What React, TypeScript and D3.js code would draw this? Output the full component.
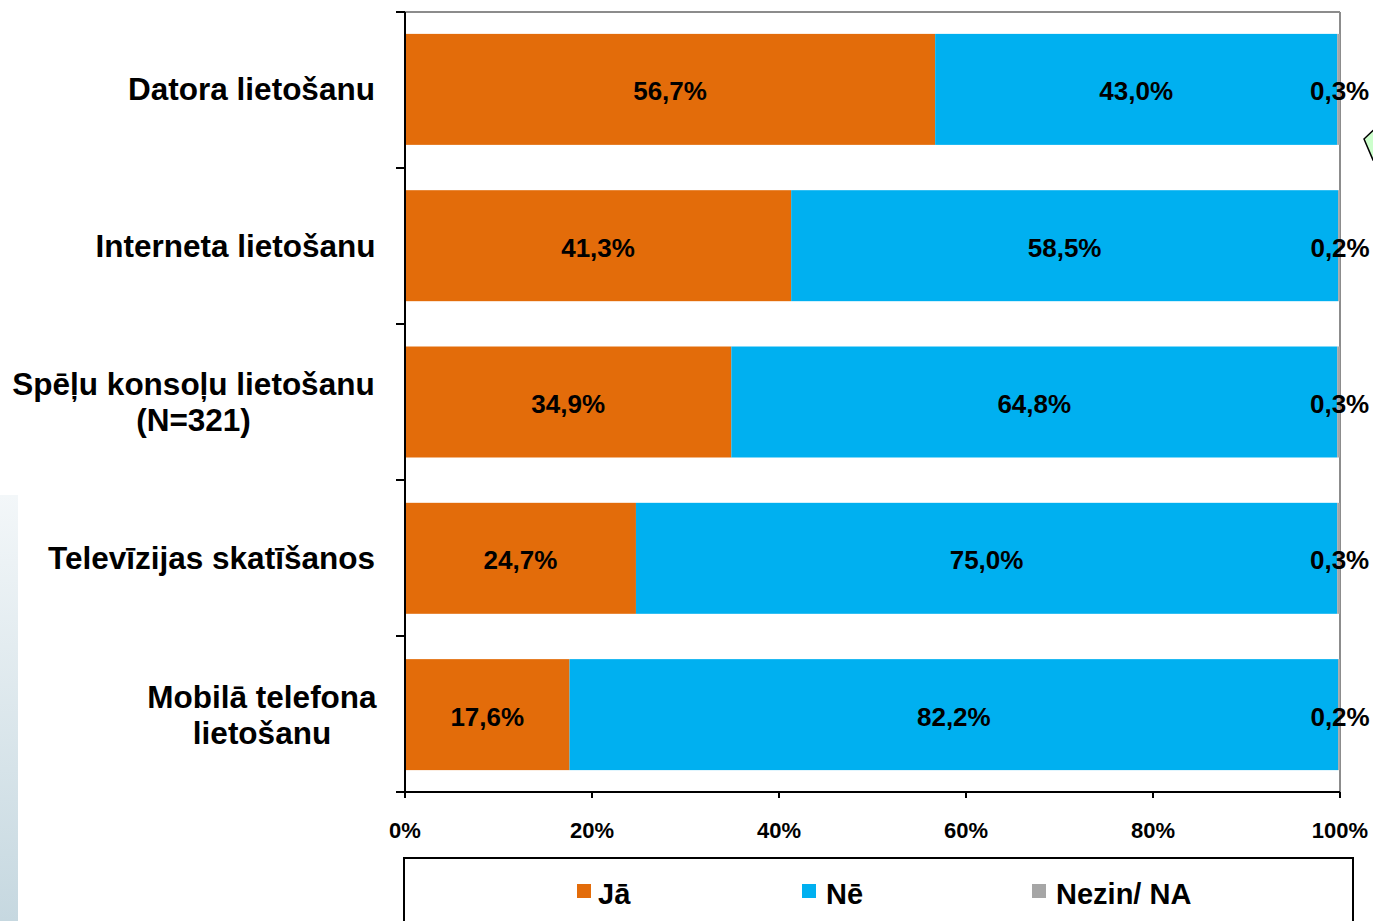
import React from "react";
import * as d3 from "d3";

const categories: string[][] = [
  ["Datora lietošanu"],
  ["Interneta lietošanu"],
  ["Spēļu konsoļu lietošanu", "(N=321)"],
  ["Televīzijas skatīšanos"],
  ["Mobilā telefona", "lietošanu"],
];
const seriesNames = ["Jā", "Nē", "Nezin/ NA"];
const ja = [56.7, 41.3, 34.9, 24.7, 17.6];
const ne = [43.0, 58.5, 64.8, 75.0, 82.2];
const nezin = [0.3, 0.2, 0.3, 0.3, 0.2];
const xTicks = [0, 20, 40, 60, 80, 100];
const colors = ["#E36C0A", "#00B0F0", "#A6A6A6"];

const W = 1373;
const H = 921;
const plot = { left: 405, right: 1340, top: 12, bottom: 792 };
const FONT = "'Liberation Sans', Arial, sans-serif";

const fmt = (v: number) => v.toFixed(1).replace(".", ",") + "%";

const CAT_CENTERS = [251.5, 235.5, 193.5, 211.5, 262];
const LEG_X = [577, 802, 1032];
const LEG_TX = [598, 826, 1056];

export default function App() {
  const x = d3.scaleLinear().domain([0, 100]).range([plot.left, plot.right]);
  const y = d3
    .scaleBand<number>()
    .domain(d3.range(categories.length))
    .range([plot.top, plot.bottom])
    .paddingInner(0.29)
    .paddingOuter(0.14);
  const band = (plot.bottom - plot.top) / categories.length;

  const series = [ja, ne, nezin];
  const rows = categories.map((_, i) => {
    let acc = 0;
    return series.map((s, k) => {
      const x0 = acc;
      acc += s[i];
      return { k, x0, x1: acc, v: s[i] };
    });
  });

  return (
    <svg
      width={W}
      height={H}
      style={{ position: "absolute", left: 0, top: 0, background: "#fff" }}
      fontFamily={FONT}
    >
      <defs>
        <linearGradient id="strip" x1="0" y1="0" x2="0" y2="1">
          <stop offset="0" stopColor="#f3f7f9" />
          <stop offset="1" stopColor="#c6d8e0" />
        </linearGradient>
      </defs>
      <rect x={0} y={495} width={18} height={H - 495} fill="url(#strip)" />

      {/* plot frame: top & right gray */}
      <line x1={plot.left} x2={plot.right} y1={plot.top} y2={plot.top} stroke="#8c8c8c" strokeWidth={2} />
      <line x1={plot.right} x2={plot.right} y1={plot.top} y2={plot.bottom} stroke="#8c8c8c" strokeWidth={2} />

      {/* bars */}
      {rows.map((segs, i) =>
        segs.map((s) => (
          <rect
            key={`${i}-${s.k}`}
            x={x(s.x0)}
            y={y(i)!}
            width={x(s.x1) - x(s.x0)}
            height={y.bandwidth()}
            fill={colors[s.k]}
          />
        ))
      )}

      {/* value labels */}
      {rows.map((segs, i) =>
        segs.map((s) => (
          <text
            key={`l${i}-${s.k}`}
            x={(x(s.x0) + x(s.x1)) / 2 + (s.k === 2 ? 1 : 0)}
            y={y(i)! + y.bandwidth() / 2 + 4}
            textAnchor="middle"
            dominantBaseline="middle"
            fontWeight="bold"
            fontSize={26}
            fill="#000"
          >
            {fmt(s.v)}
          </text>
        ))
      )}

      {/* y axis */}
      <line x1={plot.left} x2={plot.left} y1={plot.top} y2={plot.bottom + 5} stroke="#000" strokeWidth={2} />
      {d3.range(categories.length + 1).map((i) => (
        <line
          key={`yt${i}`}
          x1={plot.left - 9}
          x2={plot.left}
          y1={plot.top + i * band}
          y2={plot.top + i * band}
          stroke="#000"
          strokeWidth={2}
        />
      ))}

      {/* x axis */}
      <line x1={plot.left - 9} x2={plot.right} y1={plot.bottom} y2={plot.bottom} stroke="#000" strokeWidth={2} />
      {xTicks.map((t) => (
        <g key={`xt${t}`}>
          <line x1={x(t)} x2={x(t)} y1={plot.bottom} y2={plot.bottom + 6} stroke="#000" strokeWidth={2} />
          <text
            x={x(t)}
            y={838}
            textAnchor="middle"
            fontWeight="bold"
            fontSize={22}
            fill="#000"
          >
            {t}%
          </text>
        </g>
      ))}

      {/* category labels */}
      {categories.map((lines, i) => {
        const cy = y(i)! + y.bandwidth() / 2;
        const lh = 36;
        const startY = cy - ((lines.length - 1) * lh) / 2 + 11;
        return (
          <text
            key={`c${i}`}
            fontWeight="bold"
            fontSize={31.5}
            fill="#000"
            textAnchor="middle"
          >
            {lines.map((ln, j) => (
              <tspan key={j} x={CAT_CENTERS[i]} y={startY + j * lh}>
                {ln}
              </tspan>
            ))}
          </text>
        );
      })}

      {/* legend */}
      <rect x={404} y={858} width={949} height={80} fill="#fff" stroke="#000" strokeWidth={2} />
      {seriesNames.map((n, k) => (
        <g key={`lg${k}`}>
          <rect x={LEG_X[k]} y={884} width={14} height={14} fill={colors[k]} />
          <text x={LEG_TX[k]} y={904} fontWeight="bold" fontSize={29} fill="#000">
            {n}
          </text>
        </g>
      ))}

      {/* partial decoration at right */}
      <polygon points="1364,139 1380,124 1390,155 1373,160" fill="#ccffcc" stroke="#000" strokeWidth={1.5} />
    </svg>
  );
}
